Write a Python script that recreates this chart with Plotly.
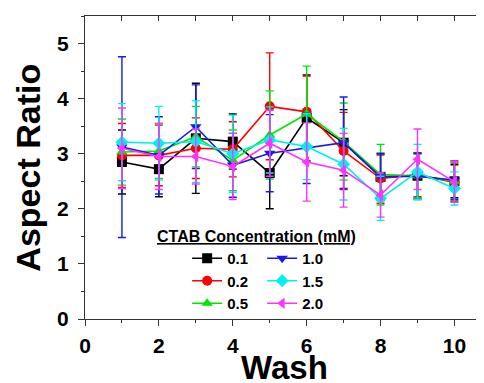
import plotly.graph_objects as go

wash = [1, 2, 3, 4, 5, 6, 7, 8, 9, 10]

conc_labels = ["0.1", "0.2", "0.5", "1.0", "1.5", "2.0"]

ar_01 = [2.85, 2.72, 3.28, 3.22, 2.65, 3.65, 3.20, 2.58, 2.60, 2.50]
err_01 = [0.58, 0.50, 1.00, 0.50, 0.65, 0.78, 0.60, 0.40, 0.40, 0.30]

ar_02 = [2.97, 2.97, 3.10, 3.08, 3.86, 3.76, 3.05, 2.55, 2.62, 2.48]
err_02 = [0.58, 0.55, 0.55, 0.50, 0.97, 0.65, 0.70, 0.45, 0.40, 0.35]

ar_05 = [3.03, 3.05, 3.31, 2.88, 3.34, 3.72, 3.22, 2.62, 2.60, 2.50]
err_05 = [0.60, 0.50, 0.55, 0.55, 0.80, 0.87, 0.70, 0.55, 0.40, 0.35]

ar_10 = [3.12, 2.97, 3.49, 2.79, 3.01, 3.10, 3.20, 2.58, 2.59, 2.52]
err_10 = [1.64, 0.70, 0.76, 0.58, 0.70, 0.64, 0.83, 0.43, 0.42, 0.35]

ar_15 = [3.21, 3.19, 3.22, 3.00, 3.25, 3.13, 2.81, 2.19, 2.67, 2.37]
err_15 = [0.70, 0.67, 0.74, 0.70, 0.60, 0.60, 0.65, 0.40, 0.50, 0.30]

ar_20 = [3.10, 2.95, 2.95, 2.77, 3.19, 2.85, 2.70, 2.25, 2.90, 2.49]
err_20 = [0.73, 0.60, 0.50, 0.60, 0.60, 0.71, 0.67, 0.40, 0.55, 0.37]

x_ticks = [0, 2, 4, 6, 8, 10]
y_ticks = [0, 1, 2, 3, 4, 5]

series = [
    (conc_labels[0], ar_01, err_01, "#000000", "square", "legend"),
    (conc_labels[1], ar_02, err_02, "#FF0000", "circle", "legend"),
    (conc_labels[2], ar_05, err_05, "#00E600", "triangle-up", "legend"),
    (conc_labels[3], ar_10, err_10, "#1A1AE6", "triangle-down", "legend2"),
    (conc_labels[4], ar_15, err_15, "#00F0F0", "diamond", "legend2"),
    (conc_labels[5], ar_20, err_20, "#FF33FF", "triangle-left", "legend2"),
]

FONT = "Liberation Sans, Arial, sans-serif"

fig = go.Figure()
for name, vals, errs, color, sym, leg in series:
    fig.add_trace(go.Scatter(
        x=wash, y=vals, name=name, mode="lines+markers",
        line=dict(color=color, width=1.6),
        marker=dict(symbol=sym, size=10, color=color),
        error_y=dict(type="data", array=errs, visible=True, color=color,
                     thickness=1.4, width=4),
        legend=leg,
    ))

# dummy trace to activate the mirrored top axis
fig.add_trace(go.Scatter(x=[None], y=[None], xaxis="x2", showlegend=False,
                         hoverinfo="skip"))

fig.update_layout(
    width=484, height=383,
    margin=dict(l=77, r=8, t=8, b=72),
    plot_bgcolor="white", paper_bgcolor="white",
    font=dict(family=FONT, color="black"),
    showlegend=True,
    xaxis=dict(
        range=[0, 10.8], tickvals=x_ticks, ticktext=[str(v) for v in x_ticks],
        ticks="outside", ticklen=6, tickwidth=1.3, tickcolor="#333",
        minor=dict(dtick=1, tick0=0, ticks="outside", ticklen=3, tickcolor="#333"),
        showline=True, linecolor="#333", linewidth=1.3, mirror=True,
        showgrid=False, zeroline=False, automargin=False,
        tickfont=dict(size=21, family=FONT, weight="bold"),
        ticklabelstandoff=2,
    ),
    xaxis2=dict(
        range=[0, 10.8], overlaying="x", side="top", dtick=1, tick0=0,
        ticks="inside", ticklen=5, tickwidth=1.3, tickcolor="#333",
        showticklabels=False, showgrid=False, zeroline=False, showline=False,
        automargin=False,
    ),
    yaxis=dict(
        range=[0, 5.5], tickvals=y_ticks, ticktext=[str(v) for v in y_ticks],
        ticks="outside", ticklen=6, tickwidth=1.3, tickcolor="#333",
        minor=dict(dtick=0.5, tick0=0, ticks="outside", ticklen=3, tickcolor="#333"),
        showline=True, linecolor="#333", linewidth=1.3, mirror=True,
        showgrid=False, zeroline=False, automargin=False,
        tickfont=dict(size=21, family=FONT, weight="bold"),
        ticklabelstandoff=5,
    ),
    legend=dict(
        x=0.256, y=0.254, xanchor="left", yanchor="top",
        bgcolor="rgba(0,0,0,0)", font=dict(size=15, family=FONT, weight="bold"),
        tracegroupgap=0, itemwidth=30,
    ),
    legend2=dict(
        x=0.444, y=0.254, xanchor="left", yanchor="top",
        bgcolor="rgba(0,0,0,0)", font=dict(size=15, family=FONT, weight="bold"),
        tracegroupgap=0, itemwidth=30,
    ),
    annotations=[
        dict(text="<u>CTAB Concentration (mM)</u>", x=0.431, y=0.237,
             xref="paper", yref="paper", showarrow=False,
             font=dict(size=16, family=FONT, weight="bold")),
        dict(text="Aspect Ratio", textangle=-90, x=-0.145, y=0.5,
             xref="paper", yref="paper", xanchor="center", yanchor="middle",
             showarrow=False, font=dict(size=34, family=FONT, weight="bold")),
        dict(text="Wash", x=0.5, y=-0.094, xref="paper", yref="paper",
             xanchor="center", yanchor="top", showarrow=False,
             font=dict(size=33, family=FONT, weight="bold")),
    ],
)

fig.write_html("out.html")
